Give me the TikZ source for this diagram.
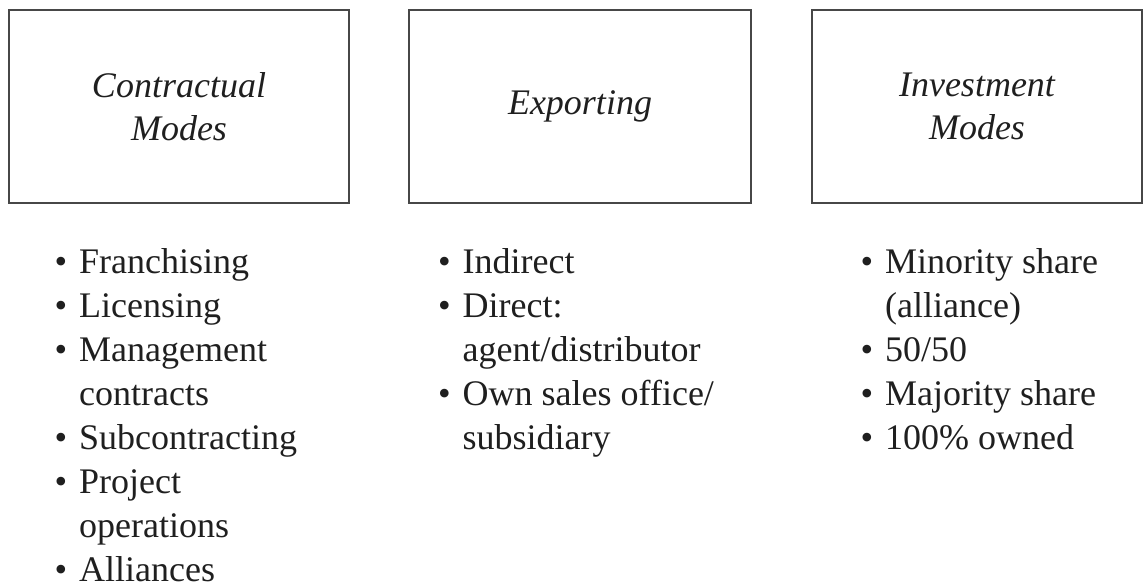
\documentclass[tikz,border=0pt]{standalone}
\usepackage{fontspec}
\setmainfont{Liberation Serif}
\begin{document}
\begin{tikzpicture}[x=1pt,y=-1pt,
  modebox/.style={draw=black!72, line width=2pt, inner sep=0pt,
    align=center, text=black!88,
    font=\fontsize{36}{43}\selectfont\itshape},
  itemlist/.style={anchor=base west, inner sep=0pt, text=black!88,
    font=\fontsize{36}{44}\selectfont}]
  \useasboundingbox (0,0) rectangle (1143,586);
  \newcommand{\bul}{\makebox[24.5pt][l]{\textbullet}}

  % Category boxes
  \node[modebox, minimum width=340, minimum height=193] (contract) at (179,106.5) {Contractual\\Modes};
  \node[modebox, minimum width=342, minimum height=193] (export) at (580,106.5) {Exporting};
  \node[modebox, minimum width=330, minimum height=193] (invest) at (977,106.5) {Investment\\Modes};

  % Lists of entry modes under each box
  \node[itemlist] (contractlist) at (54.5,273) {\begin{tabular}[t]{@{}l@{}l@{}}
    \bul & Franchising\\
    \bul & Licensing\\
    \bul & Management\\
         & contracts\\
    \bul & Subcontracting\\
    \bul & Project\\
         & operations\\
    \bul & Alliances
  \end{tabular}};
  \node[itemlist] (exportlist) at (438,273) {\begin{tabular}[t]{@{}l@{}l@{}}
    \bul & Indirect\\
    \bul & Direct:\\
         & agent/distributor\\
    \bul & Own sales office/\\
         & subsidiary
  \end{tabular}};
  \node[itemlist] (investlist) at (860.5,273) {\begin{tabular}[t]{@{}l@{}l@{}}
    \bul & Minority share\\
         & (alliance)\\
    \bul & 50/50\\
    \bul & Majority share\\
    \bul & 100\% owned
  \end{tabular}};
\end{tikzpicture}
\end{document}
